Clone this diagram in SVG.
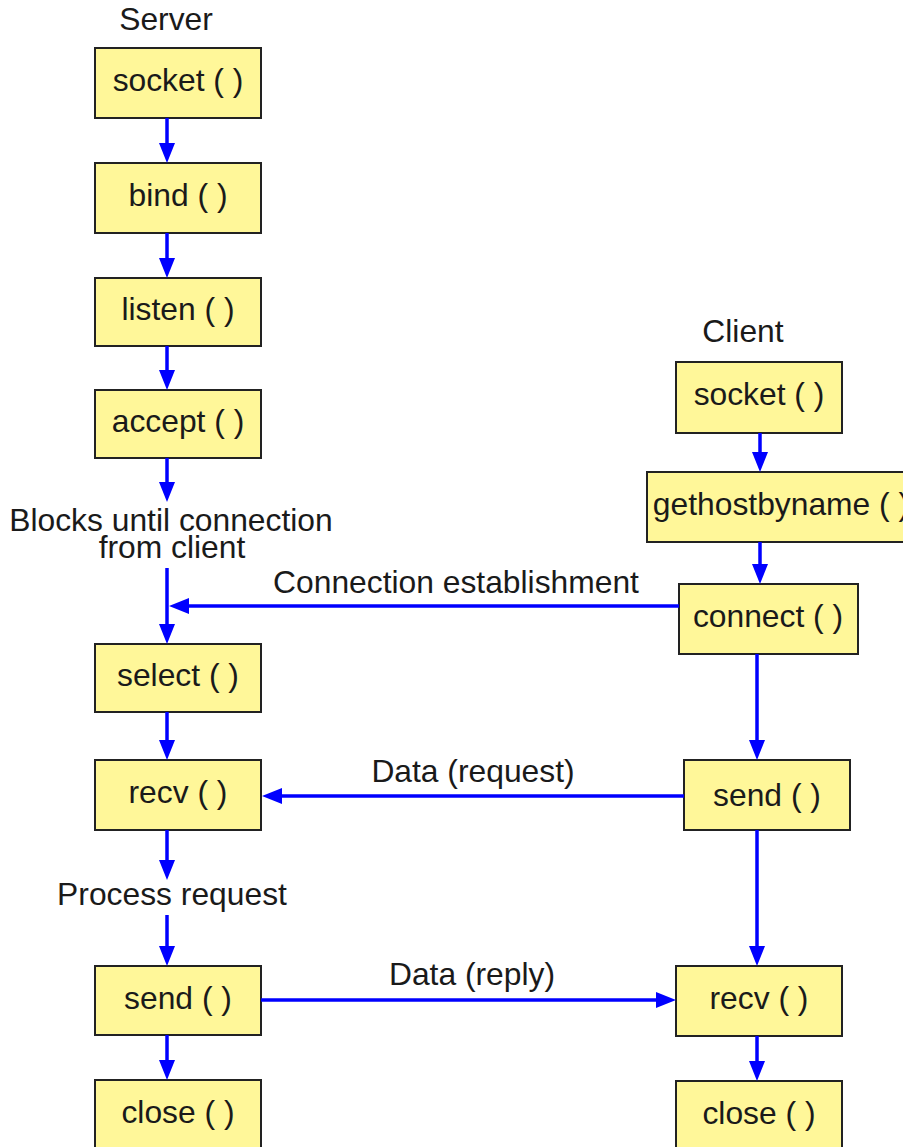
<svg xmlns="http://www.w3.org/2000/svg" width="903" height="1147" viewBox="0 0 903 1147">
<style>
.box{fill:#FFF799;stroke:#222;stroke-width:2}
.t{font-family:"Liberation Sans",Arial,sans-serif;font-size:31.8px;fill:#1a1a1a;text-anchor:middle}
.c{stroke:#0000FF;stroke-width:3.5;fill:none}
</style>
<defs>
<marker id="ah" markerUnits="userSpaceOnUse" markerWidth="20" markerHeight="16" refX="10" refY="8" orient="auto" viewBox="0 0 20 16">
<path d="M0,0 L20,8 L0,16 z" fill="#0000FF"/>
</marker>
</defs>
<rect width="903" height="1147" fill="#fff"/>
<text class="t" x="166" y="30">Server</text>
<text class="t" x="743" y="342">Client</text>

<g id="s_socket"><rect class="box" x="95" y="48" width="166" height="70"/><text class="t" x="178" y="91">socket ( )</text></g>
<g id="s_bind"><rect class="box" x="95" y="163" width="166" height="70"/><text class="t" x="178" y="206">bind ( )</text></g>
<g id="s_listen"><rect class="box" x="95" y="278" width="166" height="68"/><text class="t" x="178" y="320">listen ( )</text></g>
<g id="s_accept"><rect class="box" x="95" y="390" width="166" height="68"/><text class="t" x="178" y="432">accept ( )</text></g>
<g id="s_blocks"><text class="t" x="171" y="531">Blocks until connection</text><text class="t" x="172" y="558">from client</text></g>
<g id="s_select"><rect class="box" x="95" y="644" width="166" height="68"/><text class="t" x="178" y="686">select ( )</text></g>
<g id="s_recv"><rect class="box" x="95" y="760" width="166" height="70"/><text class="t" x="178" y="803">recv ( )</text></g>
<g id="s_process"><text class="t" x="172" y="905">Process request</text></g>
<g id="s_send"><rect class="box" x="95" y="966" width="166" height="69"/><text class="t" x="178" y="1009">send ( )</text></g>
<g id="s_close"><rect class="box" x="95" y="1080" width="166" height="80"/><text class="t" x="178" y="1123">close ( )</text></g>

<g id="c_socket"><rect class="box" x="676" y="362" width="166" height="71"/><text class="t" x="759" y="405">socket ( )</text></g>
<g id="c_gethostbyname"><rect class="box" x="647" y="472" width="270" height="70"/><text class="t" x="781" y="515">gethostbyname ( )</text></g>
<g id="c_connect"><rect class="box" x="679" y="584" width="179" height="70"/><text class="t" x="768" y="627">connect ( )</text></g>
<g id="c_send"><rect class="box" x="684" y="760" width="166" height="70"/><text class="t" x="767" y="806">send ( )</text></g>
<g id="c_recv"><rect class="box" x="676" y="966" width="166" height="70"/><text class="t" x="759" y="1009">recv ( )</text></g>
<g id="c_close"><rect class="box" x="676" y="1081" width="166" height="80"/><text class="t" x="759" y="1124">close ( )</text></g>

<g id="connectors">
<line class="c" x1="167" y1="118" x2="167" y2="153" marker-end="url(#ah)"/>
<line class="c" x1="167" y1="233" x2="167" y2="268" marker-end="url(#ah)"/>
<line class="c" x1="167" y1="346" x2="167" y2="380" marker-end="url(#ah)"/>
<line class="c" x1="167" y1="458" x2="167" y2="492" marker-end="url(#ah)"/>
<line class="c" x1="167" y1="568" x2="167" y2="634" marker-end="url(#ah)"/>
<line class="c" x1="167" y1="712" x2="167" y2="750" marker-end="url(#ah)"/>
<line class="c" x1="167" y1="830" x2="167" y2="870" marker-end="url(#ah)"/>
<line class="c" x1="167" y1="915" x2="167" y2="956" marker-end="url(#ah)"/>
<line class="c" x1="167" y1="1035" x2="167" y2="1070" marker-end="url(#ah)"/>
<line class="c" x1="679" y1="606" x2="179" y2="606" marker-end="url(#ah)"/>
<text class="t" x="456" y="593">Connection establishment</text>
<line class="c" x1="684" y1="796" x2="272" y2="796" marker-end="url(#ah)"/>
<text class="t" x="473" y="782">Data (request)</text>
<line class="c" x1="261" y1="1000" x2="666" y2="1000" marker-end="url(#ah)"/>
<text class="t" x="472" y="985">Data (reply)</text>
<line class="c" x1="760" y1="433" x2="760" y2="462" marker-end="url(#ah)"/>
<line class="c" x1="760" y1="542" x2="760" y2="574" marker-end="url(#ah)"/>
<line class="c" x1="757" y1="654" x2="757" y2="750" marker-end="url(#ah)"/>
<line class="c" x1="757" y1="830" x2="757" y2="956" marker-end="url(#ah)"/>
<line class="c" x1="757" y1="1036" x2="757" y2="1071" marker-end="url(#ah)"/>
</g>
</svg>
